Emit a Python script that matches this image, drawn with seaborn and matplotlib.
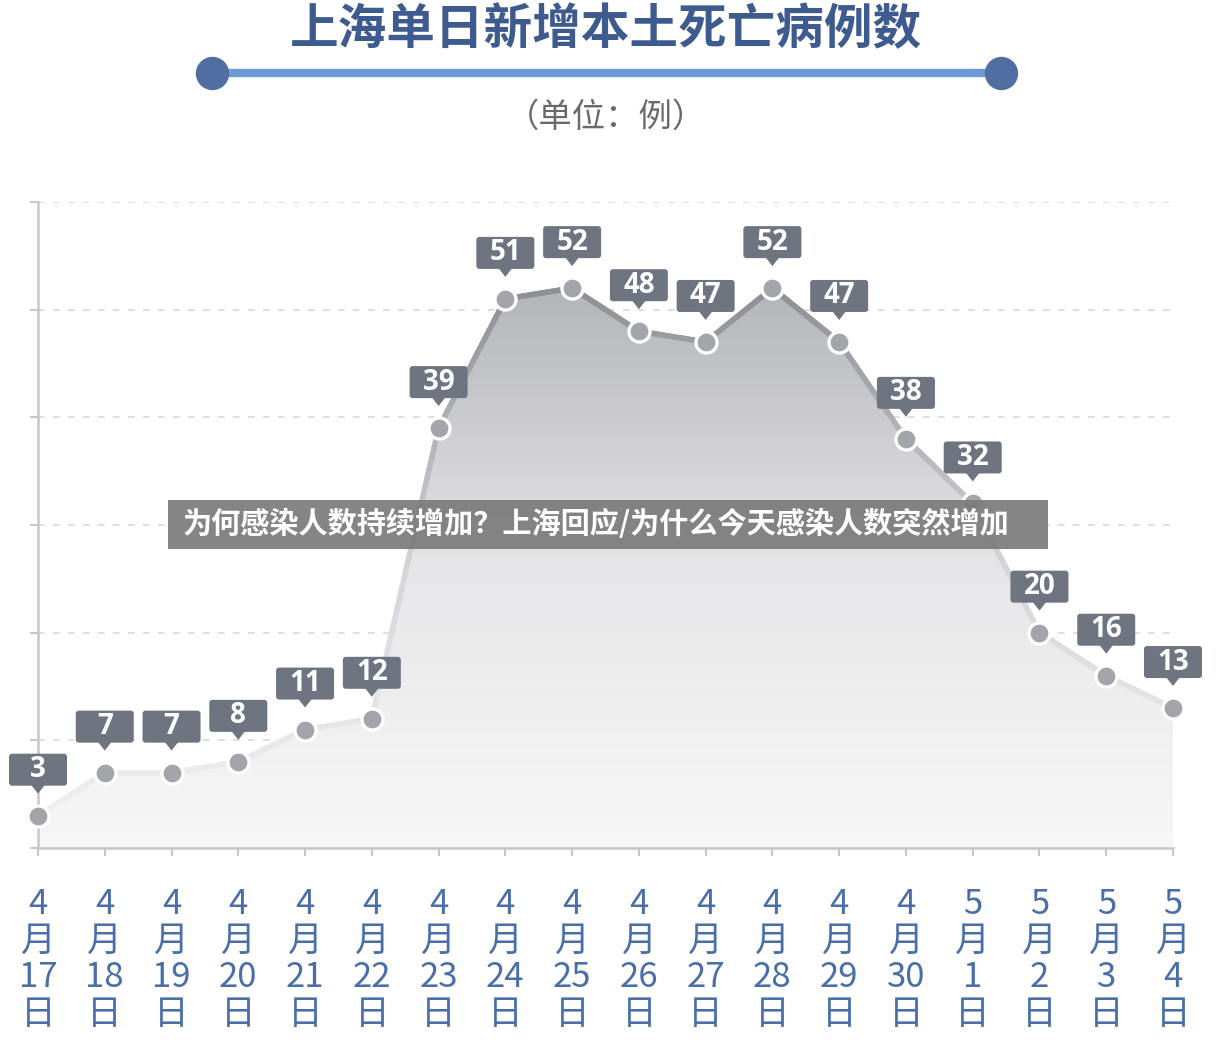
import numpy as np
import pandas as pd
import matplotlib
matplotlib.use("Agg")
import matplotlib.pyplot as plt
import matplotlib.transforms as mtransforms
from matplotlib.patches import FancyBboxPatch, Polygon, Rectangle
from matplotlib.collections import LineCollection
from matplotlib.colors import LinearSegmentedColormap
from matplotlib.lines import Line2D
import seaborn as sns

# data
months = ["4"] * 14 + ["5"] * 4
days = ["17", "18", "19", "20", "21", "22", "23", "24", "25", "26",
        "27", "28", "29", "30", "1", "2", "3", "4"]
deaths = [3, 7, 7, 8, 11, 12, 39, 51, 52, 48, 47, 52, 47, 38, 32, 20, 16, 13]

title = "上海单日新增本土死亡病例数"
unit = "（单位：例）"
banner = "为何感染人数持续增加？上海回应/为什么今天感染人数突然增加"

df = pd.DataFrame({"idx": np.arange(len(deaths)), "deaths": deaths})
tick_labels = [f"{m}\n月\n{d}\n日" for m, d in zip(months, days)]

sns.set_theme(style="white")
plt.rcParams["font.family"] = ["Noto Sans CJK SC", "DejaVu Sans"]

W, H = 1218, 1050
fig = plt.figure(figsize=(W / 100, H / 100), dpi=100)
fig.patch.set_facecolor("white")
ax = fig.add_axes([38 / W, (H - 848) / H, (1173 - 38) / W, (848 - 202) / H])
ax.set_facecolor("white")

# gradient area under the curve
poly = ax.fill_between(df["idx"], 0, df["deaths"], color="none", lw=0)
area_cmap = LinearSegmentedColormap.from_list("area", ["#f7f7f8", "#e6e6e8", "#b4b5ba"])
grad = np.linspace(0, 1, 256).reshape(-1, 1)
im = ax.imshow(grad, cmap=area_cmap, extent=[0, len(deaths) - 1, 0, max(deaths)],
               aspect="auto", origin="lower", zorder=1)
im.set_clip_path(poly.get_paths()[0], ax.transData)

# line with vertical colour gradient
xs, ys = [], []
for i in range(len(deaths) - 1):
    t = np.linspace(0, 1, 30)
    xs.extend(i + t)
    ys.extend(deaths[i] + (deaths[i + 1] - deaths[i]) * t)
pts = np.column_stack([xs, ys]).reshape(-1, 1, 2)
segs = np.concatenate([pts[:-1], pts[1:]], axis=1)
line_cmap = LinearSegmentedColormap.from_list("ln", ["#f3f3f4", "#d4d5d8", "#8d8f95"])
lc = LineCollection(segs, cmap=line_cmap, norm=plt.Normalize(0, 52), lw=4, zorder=3,
                    capstyle="round")
lc.set_array(0.5 * (segs[:, 0, 1] + segs[:, 1, 1]))
ax.add_collection(lc)

sns.scatterplot(data=df, x="idx", y="deaths", ax=ax, s=230, color="#a3a5ab",
                edgecolor="white", linewidth=2.4, zorder=4, clip_on=False, legend=False)

# label boxes
for i, v in zip(df["idx"], df["deaths"]):
    trans = mtransforms.Affine2D() + mtransforms.ScaledTranslation(i, v, ax.transData)
    box = FancyBboxPatch((-29, 30), 58, 32, boxstyle="round,pad=0,rounding_size=3",
                         fc="#6e7581", ec="none", transform=trans, zorder=5, clip_on=False)
    tri = Polygon([(-7, 31), (7, 31), (0, 22)], closed=True, fc="#6e7581", ec="none",
                  transform=trans, zorder=5, clip_on=False)
    ax.add_artist(box)
    ax.add_artist(tri)
    ax.text(0, 46, str(v), transform=trans, ha="center", va="center", color="white",
            fontsize=20, fontweight="bold", family=["Open Sans", "DejaVu Sans"],
            zorder=6, clip_on=False)

ax.set_xlim(0, len(deaths) - 1)
ax.set_ylim(0, 60)
ax.set_yticks(np.arange(0, 61, 10))
ax.set_yticklabels([])
ax.set_xticks(df["idx"])
ax.set_xticklabels(tick_labels, fontsize=25, color="#4a6fa8", linespacing=1.06,
                   fontweight="light")
ax.set_xlabel("")
ax.set_ylabel("")
ax.grid(axis="y", color="#d9d9d9", lw=1.2, ls=(0, (4, 5)))
ax.grid(axis="x", visible=False)
for s in ["top", "right"]:
    ax.spines[s].set_visible(False)
for s in ["left", "bottom"]:
    ax.spines[s].set_color("#c8c8c8")
    ax.spines[s].set_linewidth(1.8)
    ax.spines[s].set_zorder(2)
ax.tick_params(axis="both", length=6, width=1.5, color="#c8c8c8")
ax.tick_params(axis="x", bottom=True, pad=22)
ax.tick_params(axis="y", left=True)

# header
fig.text(606 / W, 1 - 30 / H, title, ha="center", va="center", fontsize=35,
         fontweight="bold", color="#3e5b8f")
fig.add_artist(Line2D([212 / W, 1001 / W], [1 - 73 / H, 1 - 73 / H],
                      transform=fig.transFigure, lw=6, color="#6c9bd6",
                      solid_capstyle="butt"))
fig.add_artist(Line2D([212 / W, 1001 / W], [1 - 73 / H, 1 - 73 / H],
                      transform=fig.transFigure, lw=0, marker="o", markersize=23,
                      color="#506ea2"))
fig.text(606 / W, 1 - 117 / H, unit, ha="center", va="center", fontsize=24,
         fontweight="light", color="#6a6a6a")

# overlay banner
fig.add_artist(Rectangle((168 / W, 1 - 549 / H), 880 / W, 49 / H, transform=fig.transFigure,
                         fc="#7b7b7b", ec="none", alpha=0.92, zorder=10))
fig.text(183 / W, 1 - 524 / H, banner, ha="left", va="center", fontsize=21,
         fontweight="heavy", color="white", zorder=11)

fig.savefig("out.png", dpi=100)
